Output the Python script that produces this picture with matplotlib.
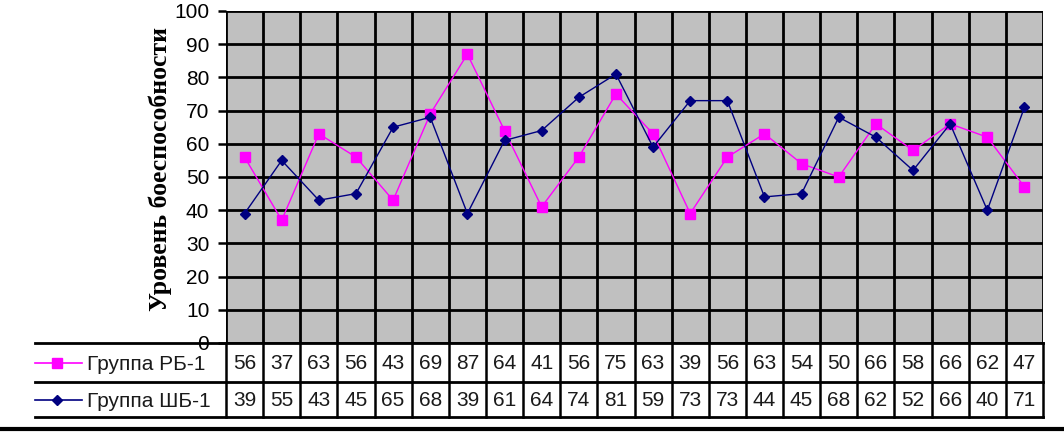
import numpy as np
import matplotlib.pyplot as plt
from matplotlib.transforms import blended_transform_factory

plt.rcParams['font.family'] = ['Liberation Sans', 'DejaVu Sans']

rb1 = [56, 37, 63, 56, 43, 69, 87, 64, 41, 56, 75, 63, 39, 56, 63, 54, 50, 66, 58, 66, 62, 47]
shb1 = [39, 55, 43, 45, 65, 68, 39, 61, 64, 74, 81, 59, 73, 73, 44, 45, 68, 62, 52, 66, 40, 71]
names = ['Группа РБ-1', 'Группа ШБ-1']
ylab = 'Уровень боеспособности'

n = len(rb1)
x = np.arange(n)

fig = plt.figure(figsize=(10.64, 4.32), dpi=100)
ax = fig.add_axes([226/1064, 89/432, 817/1064, 332/432])
ax.set_facecolor('#c0c0c0')

ax.plot(x, rb1, color='#ff00ff', lw=1, marker='s', ms=7.5, zorder=3)
ax.plot(x, shb1, color='#000080', lw=1, marker='D', ms=5.5, zorder=4)

ax.set_xlim(-0.5, n - 0.5)
ax.set_ylim(0, 100)
ax.set_yticks(np.arange(0, 101, 10))
ax.set_xticks(np.arange(n + 1) - 0.5)
ax.set_xticklabels([])
ax.tick_params(axis='x', length=0)
ax.tick_params(axis='y', length=6, width=1.8, labelsize=15, pad=6)
ax.grid(True, color='black', lw=2)
for s in ax.spines.values():
    s.set_visible(False)
ax.set_ylabel(ylab, fontsize=18.5, fontweight='bold', family='Liberation Serif')
ax.yaxis.set_label_coords(-0.066, 0.525)

# data table
tr = blended_transform_factory(ax.transData, ax.transAxes)
row_y = [0, -0.1175, -0.223]
xl = -5.64
for yy in row_y:
    ax.plot([xl, n - 0.5], [yy, yy], transform=tr, color='black', lw=2, clip_on=False)
for b in np.arange(n + 1) - 0.5:
    ax.plot([b, b], [0, row_y[-1]], transform=tr, color='black', lw=1.8, clip_on=False)

series = [(rb1, '#ff00ff', 's', 7.5), (shb1, '#000080', 'D', 5.5)]
for r, (vals, col, mk, ms) in enumerate(series):
    yc = (row_y[r] + row_y[r + 1]) / 2
    for i, v in enumerate(vals):
        ax.text(i, yc - 0.004, str(v), transform=tr, ha='center', va='center', fontsize=15, color='#1a1a1a')
    ax.plot([xl, xl + 1.25], [yc, yc], transform=tr, color=col, lw=1.2, clip_on=False)
    ax.plot([xl + 0.6], [yc], transform=tr, color=col, marker=mk, ms=ms, lw=0, clip_on=False)
    ax.text(xl + 1.4, yc - 0.006, names[r], transform=tr, ha='left', va='center', fontsize=15, color='#1a1a1a')

# bottom rule
fig.add_artist(plt.Line2D([0, 1], [0.008, 0.008], color='black', lw=3, transform=fig.transFigure))

fig.savefig('out.png', dpi=100)
